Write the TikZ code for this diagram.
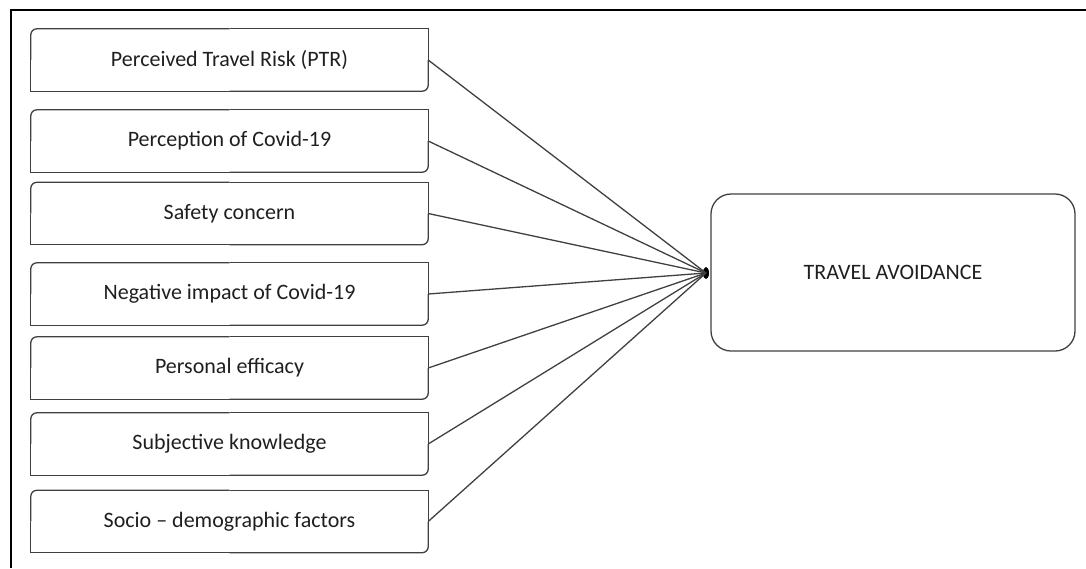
\documentclass[tikz,border=0pt]{standalone}
\usepackage{fontspec}
\setmainfont{Carlito}
\usetikzlibrary{shapes.geometric}
\definecolor{edge}{HTML}{404040}
\definecolor{ink}{HTML}{1F1F1F}

\begin{document}
\begin{tikzpicture}[x=1pt, y=-1pt,
  every node/.style={text=ink, font=\fontsize{22}{24}\selectfont},
  factor/.style={minimum width=397pt, minimum height=62pt, inner sep=0pt},
  outcome/.style={draw=edge, line width=1.3pt, rounded corners=20pt,
    minimum width=364pt, minimum height=157pt, inner sep=0pt}]
  \useasboundingbox (0,0) rectangle (1086,568);
  \draw[line width=2pt] (1086,10) -- (11,10) -- (11,568);
  \foreach \n/\y/\t in {ptr/60/Perceived Travel Risk (PTR),
      covid/141/Perception of Covid-19, safety/213.5/Safety concern,
      impact/294/Negative impact of Covid-19, efficacy/368/Personal efficacy,
      know/444/Subjective knowledge, socio/521.5/Socio – demographic factors} {
    \node[factor] (\n) at (229.5, \y) {\t};
    \draw[edge, line width=1.3pt, rounded corners=6pt]
      (\n.west) |- (\n.north) (\n.east) |- (\n.south);
    \draw[edge, line width=1.3pt] (\n.north) -| (\n.east) (\n.south) -| (\n.west);
  }
  \node[outcome] (avoid) at (893, 272.5) {TRAVEL AVOIDANCE};
  \node[ellipse, fill=black, minimum width=6pt, minimum height=12pt,
    inner sep=0pt] (hub) at (706, 273) {};
  \foreach \n in {ptr,covid,safety,impact,efficacy,know,socio}
    \draw[edge, line width=1.3pt] (\n.east) -- (hub.center);
\end{tikzpicture}
\end{document}
